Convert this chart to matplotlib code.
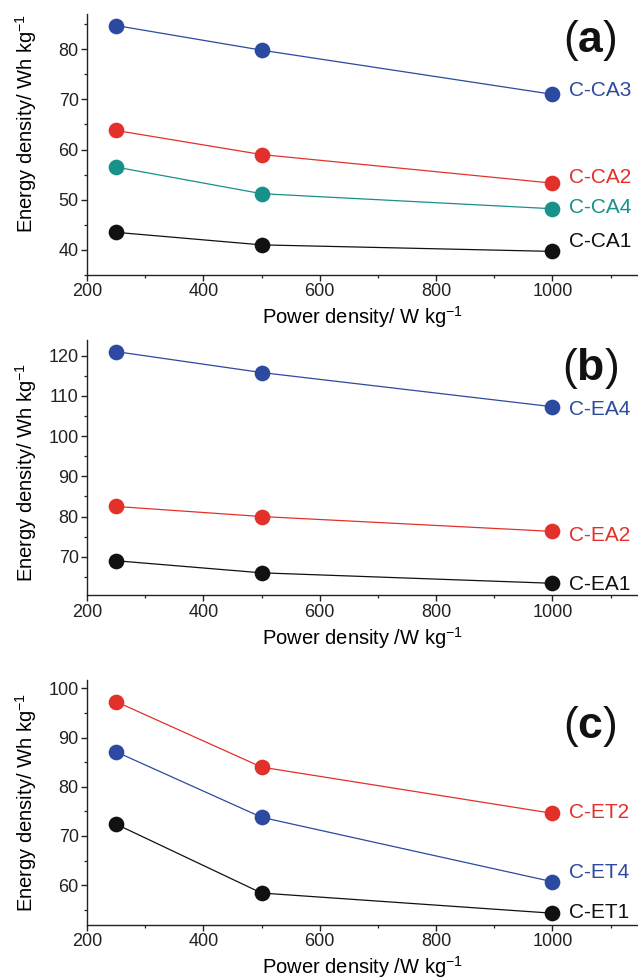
import matplotlib
matplotlib.use("Agg")
import matplotlib.pyplot as plt
from matplotlib.ticker import MultipleLocator
from matplotlib import font_manager

plt.rcParams["font.family"] = ["Liberation Sans", "DejaVu Sans"]
plt.rcParams["mathtext.fontset"] = "custom"
plt.rcParams["mathtext.rm"] = "Liberation Sans"
plt.rcParams["mathtext.it"] = "Liberation Sans:italic"
plt.rcParams["mathtext.bf"] = "Liberation Sans:bold"

# tick numbers in the original look condensed
names = {f.name for f in font_manager.fontManager.ttflist}
if "Liberation Sans Narrow" in names:
    tick_font, tick_size = "Liberation Sans Narrow", 15
else:
    tick_font, tick_size = "Liberation Sans", 13

# power density values (W/kg)
power = [250, 500, 1000]

# panel (a)
ca_names = ["C-CA3", "C-CA2", "C-CA4", "C-CA1"]
ca_values = [
    [84.7, 79.8, 71.0],
    [63.8, 59.0, 53.3],
    [56.5, 51.2, 48.2],
    [43.5, 41.0, 39.7],
]
ca_label_y = [71.8, 54.5, 48.5, 41.7]

# panel (b)
ea_names = ["C-EA4", "C-EA2", "C-EA1"]
ea_values = [
    [121.0, 115.8, 107.3],
    [82.5, 80.0, 76.3],
    [69.0, 66.0, 63.4],
]
ea_label_y = [106.7, 75.4, 63.0]

# panel (c)
et_names = ["C-ET2", "C-ET4", "C-ET1"]
et_values = [
    [97.3, 84.0, 74.6],
    [87.1, 73.8, 60.7],
    [72.4, 58.4, 54.3],
]
et_label_y = [74.7, 62.6, 54.4]

blue = "#2c4a9f"
red = "#e2312b"
teal = "#17918a"
black = "#111111"

panels = [
    dict(names=ca_names, values=ca_values, label_y=ca_label_y,
         colors=[blue, red, teal, black], ylim=(35, 87),
         xlabel="Power density/ W kg$^{-1}$", tag="a", tag_y=81.7, ylab_y=0.582),
    dict(names=ea_names, values=ea_values, label_y=ea_label_y,
         colors=[blue, red, black], ylim=(60.4, 123.9),
         xlabel="Power density /W kg$^{-1}$", tag="b", tag_y=116.9, ylab_y=0.48),
    dict(names=et_names, values=et_values, label_y=et_label_y,
         colors=[red, blue, black], ylim=(51.9, 101.7),
         xlabel="Power density /W kg$^{-1}$", tag="c", tag_y=92.3, ylab_y=0.5),
]

# axes rectangles in figure fraction [left, bottom, width, height]
rects = [
    [0.1364, 0.7194, 0.8636, 0.2663],
    [0.1364, 0.3925, 0.8636, 0.2606],
    [0.1364, 0.0561, 0.8636, 0.2500],
]

fig = plt.figure(figsize=(6.38, 9.8), dpi=100)

for p, r in zip(panels, rects):
    ax = fig.add_axes(r)
    for name, vals, ly, c in zip(p["names"], p["values"], p["label_y"], p["colors"]):
        ax.plot(power, vals, color=c, lw=0.9, marker="o", ms=11.3,
                markeredgewidth=0, clip_on=False)
        ax.text(1029, ly, name, color=c, fontsize=15, ha="left", va="center")
    ax.set_xlim(200, 1147)
    ax.set_ylim(*p["ylim"])
    ax.xaxis.set_major_locator(MultipleLocator(200))
    ax.xaxis.set_minor_locator(MultipleLocator(100))
    ax.yaxis.set_major_locator(MultipleLocator(10))
    ax.yaxis.set_minor_locator(MultipleLocator(5))
    ax.spines["top"].set_visible(False)
    ax.spines["right"].set_visible(False)
    for s in ("left", "bottom"):
        ax.spines[s].set_linewidth(1.0)
        ax.spines[s].set_color("#222222")
    ax.tick_params(which="major", direction="out", length=4, width=1.0,
                   labelsize=tick_size, colors="#222222", pad=2)
    ax.tick_params(which="minor", direction="out", length=2.5, width=0.9,
                   colors="#222222")
    for lab in ax.get_xticklabels() + ax.get_yticklabels():
        lab.set_fontfamily(tick_font)
    ax.set_xlabel(p["xlabel"], fontsize=14.5, labelpad=3)
    ax.set_ylabel("Energy density/ Wh kg$^{-1}$", fontsize=14.5)
    ax.yaxis.set_label_coords(-0.088, p["ylab_y"])
    ax.text(1064, p["tag_y"], "(" + r"$\mathbf{" + p["tag"] + "}$" + ")",
            fontsize=32, ha="center", va="center", color="#111111")

fig.savefig("out.png", dpi=100)
plt.close(fig)
